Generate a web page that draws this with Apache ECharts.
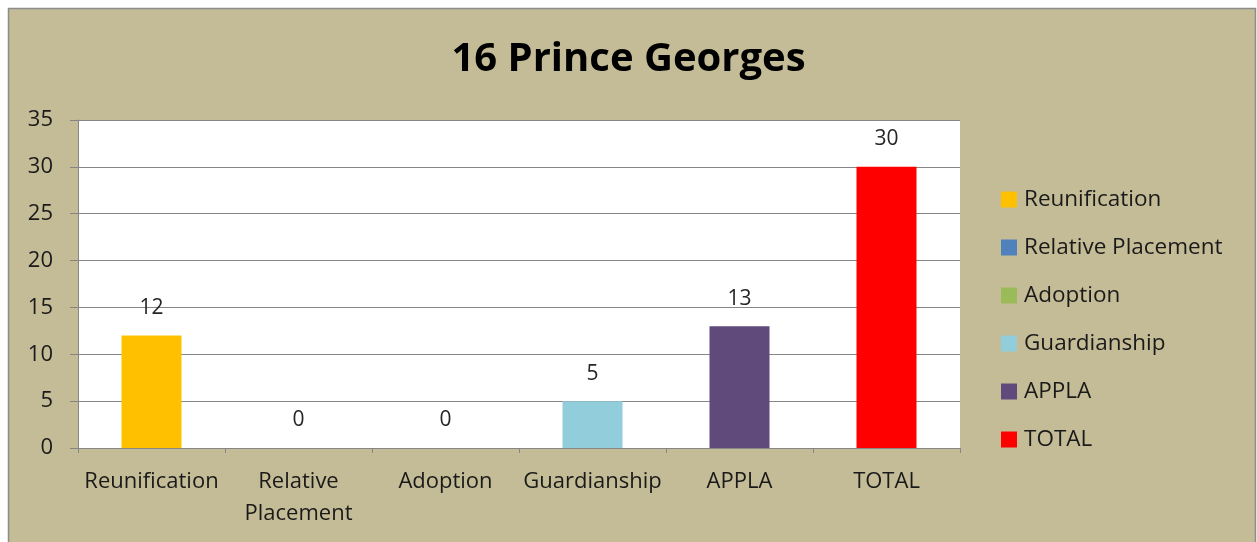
<!DOCTYPE html>
<html>
<head>
<meta charset="utf-8">
<script src="https://cdn.jsdelivr.net/npm/echarts@6/dist/echarts.min.js"></script>
<style>
  html, body { margin: 0; padding: 0; background: #ffffff; }
  #chart { width: 1257px; height: 542px; }
</style>
</head>
<body>
<div id="chart"></div>
<script>
  // Data
  var categories = ['Reunification', 'Relative Placement', 'Adoption', 'Guardianship', 'APPLA', 'TOTAL'];
  var axisLabels = ['Reunification', 'Relative\nPlacement', 'Adoption', 'Guardianship', 'APPLA', 'TOTAL'];
  var values = [12, 0, 0, 5, 13, 30];
  var colors = ['#FFC000', '#4F81BD', '#9BBB59', '#92CDDC', '#604A7B', '#FF0000'];

  var font = '"Open Sans", sans-serif';

  // one series per category so the legend lists them
  var series = categories.map(function (name, i) {
    var data = values.map(function (v, j) { return j === i ? v : null; });
    return {
      name: name,
      type: 'bar',
      stack: 'all',
      barWidth: 60,
      data: data,
      itemStyle: { color: colors[i] },
      label: {
        show: true,
        position: 'top',
        distance: 17,
        fontFamily: font,
        fontSize: 21,
        color: '#262626'
      }
    };
  });

  var chart = echarts.init(document.getElementById('chart'));
  var option = {
    animation: false,
    backgroundColor: '#ffffff',
    graphic: [{
      type: 'rect',
      shape: { x: 8.5, y: 8.5, width: 1247, height: 540 },
      style: { fill: '#C4BC96', stroke: '#8C8C8C', lineWidth: 1.5 },
      z: -10
    }],
    title: {
      text: '16 Prince Georges',
      left: 'center',
      top: 35,
      textStyle: { fontFamily: font, fontWeight: 'bold', fontSize: 40, color: '#000000' }
    },
    legend: {
      orient: 'vertical',
      left: 996,
      top: 183,
      itemWidth: 16,
      itemHeight: 16,
      itemGap: 25,
      icon: 'rect',
      data: categories,
      textStyle: { fontFamily: font, fontSize: 22.5, color: '#1a1a1a', lineHeight: 20, padding: [0, 0, 0, 2] }
    },
    grid: {
      left: 78,
      top: 120,
      right: 297,
      bottom: 94,
      show: true,
      backgroundColor: '#ffffff',
      borderWidth: 0
    },
    xAxis: {
      type: 'category',
      data: axisLabels,
      axisLine: { lineStyle: { color: '#868686', width: 1 } },
      axisTick: { show: true, alignWithLabel: false, length: 5, lineStyle: { color: '#868686' } },
      axisLabel: {
        fontFamily: font,
        fontSize: 22,
        color: '#1a1a1a',
        margin: 18,
        lineHeight: 32,
        interval: 0
      }
    },
    yAxis: {
      type: 'value',
      min: 0,
      max: 35,
      interval: 5,
      axisLine: { show: true, lineStyle: { color: '#868686', width: 1 } },
      axisTick: { show: true, length: 8, lineStyle: { color: '#868686' } },
      splitLine: { lineStyle: { color: '#868686', width: 1 } },
      axisLabel: {
        fontFamily: font,
        fontSize: 22,
        color: '#1a1a1a',
        margin: 25
      }
    },
    series: series
  };
  chart.setOption(option);
</script>
</body>
</html>
